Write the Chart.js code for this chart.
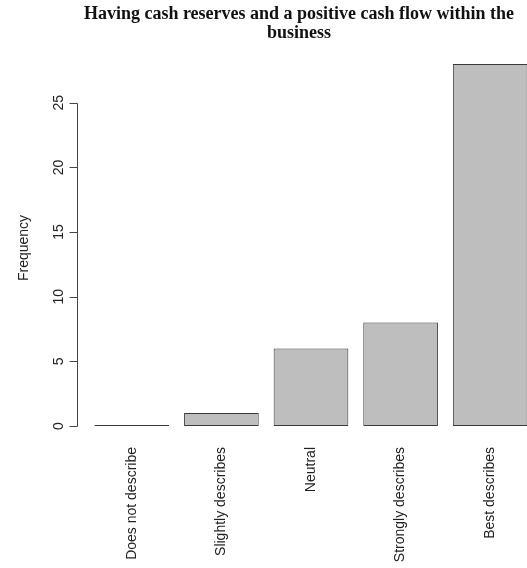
<!DOCTYPE html>
<html>
<head>
<meta charset="utf-8">
<script src="https://cdn.jsdelivr.net/npm/chart.js@4/dist/chart.umd.min.js"></script>
<style>
  html, body { margin: 0; padding: 0; background: #ffffff; overflow: hidden; }
  #wrap { position: absolute; left: 0; top: 0; width: 560px; height: 568px; }
  #title {
    position: absolute; left: 59px; top: 4px; width: 480px;
    text-align: center; font: bold 18px "Liberation Serif", "Times New Roman", serif;
    line-height: 19px; color: #111; white-space: nowrap;
  }
</style>
</head>
<body>
<div id="wrap">
  <canvas id="chart" width="560" height="568"></canvas>
  <div id="title">Having cash reserves and a positive cash flow within the<br>business</div>
</div>
<script>
// Survey answers: how well "cash reserves and positive cash flow" describes the business
const categories = ["Does not describe", "Slightly describes", "Neutral", "Strongly describes", "Best describes"];
const frequencies = [0, 1, 6, 8, 28];
const yTickValues = [0, 5, 10, 15, 20, 25];
const yAxisTitle = "Frequency";

const LABEL_FONT = '14px "Liberation Sans", Arial, Helvetica, sans-serif';

// Left value axis drawn R-style: detached from the bars, spanning first to last tick,
// with labels running parallel to the axis.
const rAxisPlugin = {
  id: 'rAxis',
  afterDraw(chart) {
    const ctx = chart.ctx;
    const y = chart.scales.y;
    const axisX = Math.round(chart.chartArea.left - 10) + 0.5;
    const tickLen = 8;
    const top = y.getPixelForValue(yTickValues[yTickValues.length - 1]);
    const bottom = y.getPixelForValue(yTickValues[0]);
    ctx.save();
    ctx.strokeStyle = '#444';
    ctx.lineWidth = 1;
    ctx.beginPath();
    ctx.moveTo(axisX, Math.round(top) + 0.5);
    ctx.lineTo(axisX, Math.round(bottom) + 0.5);
    yTickValues.forEach(v => {
      const py = Math.round(y.getPixelForValue(v)) + 0.5;
      ctx.moveTo(axisX, py);
      ctx.lineTo(axisX - tickLen, py);
    });
    ctx.stroke();

    ctx.fillStyle = '#222';
    ctx.font = LABEL_FONT;
    ctx.textAlign = 'center';
    ctx.textBaseline = 'alphabetic';
    yTickValues.forEach(v => {
      const py = y.getPixelForValue(v);
      ctx.save();
      ctx.translate(axisX - 15, py);
      ctx.rotate(-Math.PI / 2);
      ctx.fillText(String(v), 0, 0);
      ctx.restore();
    });

    ctx.save();
    ctx.translate(28, 248);
    ctx.rotate(-Math.PI / 2);
    ctx.fillText(yAxisTitle, 0, 0);
    ctx.restore();
    ctx.restore();
  }
};

new Chart(document.getElementById('chart'), {
  type: 'bar',
  data: {
    labels: categories,
    datasets: [{
      data: frequencies,
      backgroundColor: '#bebebe',
      borderColor: '#3a3a3a',
      borderWidth: 1,
      borderSkipped: false,
      minBarLength: 1,
      categoryPercentage: 1,
      barPercentage: 1 / 1.2
    }]
  },
  options: {
    responsive: false,
    animation: false,
    layout: { padding: { left: 87, top: 51, right: 25, bottom: 0 } },
    plugins: {
      legend: { display: false },
      title: { display: false },
      tooltip: { enabled: false }
    },
    scales: {
      x: {
        grid: { display: false, drawTicks: false },
        border: { display: false },
        ticks: {
          autoSkip: false,
          minRotation: 90,
          maxRotation: 90,
          padding: 21,
          color: '#222',
          font: { family: '"Liberation Sans", Arial, Helvetica, sans-serif', size: 14 }
        },
        afterFit(scale) { scale.height = 142; }
      },
      y: {
        display: false,
        min: 0,
        max: 29
      }
    }
  },
  plugins: [rAxisPlugin]
});
</script>
</body>
</html>
